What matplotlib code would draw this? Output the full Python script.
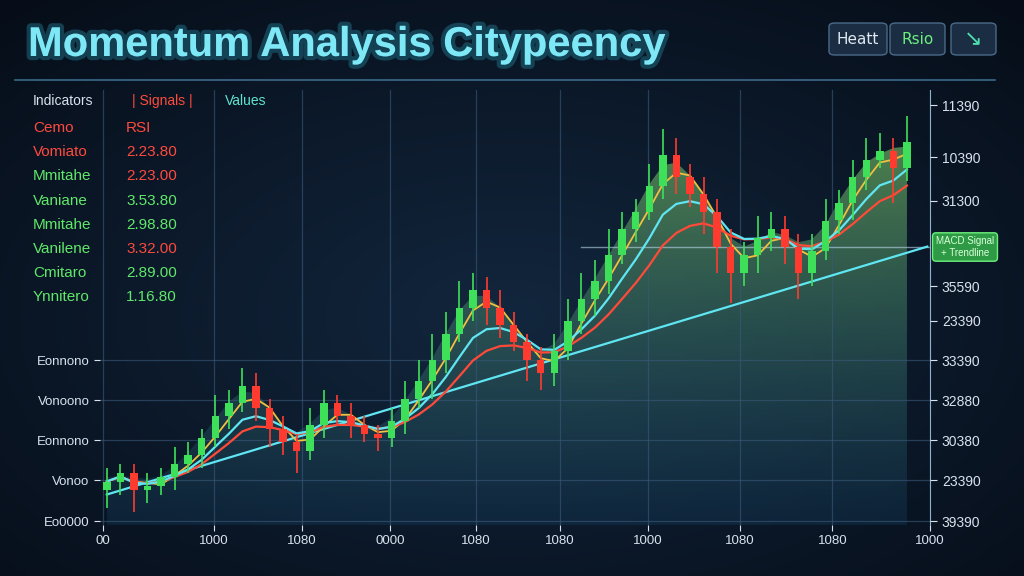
import numpy as np
import pandas as pd
import matplotlib
matplotlib.use("Agg")
import matplotlib.pyplot as plt
from matplotlib.patches import FancyBboxPatch, Polygon
import matplotlib.patheffects as pe

# ---- data ----
closes = [10, 12, 8, 9, 11, 14, 16, 20, 25, 28, 32, 27, 22, 19, 17, 23, 28, 25, 23, 21,
          20, 24, 29, 33, 38, 44, 50, 54, 50, 46, 42, 38, 35, 40, 47, 52, 56, 62, 68, 72,
          78, 85, 80, 76, 72, 64, 58, 62, 66, 68, 64, 58, 63, 70, 74, 80, 84, 86, 82, 88]
upper_wick = [3, 2, 2, 3, 2, 4, 3, 2, 5, 3, 4, 3, 2, 3, 2, 4, 3, 2, 3, 2,
              2, 3, 4, 5, 6, 5, 6, 4, 3, 4, 3, 2, 3, 4, 5, 6, 5, 6, 4, 3,
              5, 6, 4, 3, 4, 3, 4, 3, 5, 4, 3, 3, 4, 5, 3, 4, 5, 4, 3, 6]
lower_wick = [4, 3, 5, 3, 2, 3, 2, 3, 2, 3, 2, 3, 4, 3, 5, 2, 3, 2, 3, 2,
              3, 2, 3, 2, 4, 3, 2, 3, 4, 3, 2, 5, 4, 3, 2, 3, 4, 3, 2, 3,
              2, 3, 4, 3, 5, 6, 7, 3, 4, 3, 4, 6, 3, 2, 3, 4, 3, 2, 8, 3]
trend_start, trend_end = 7.0, 64.0
signal_level = 64.0

right_ticks = [96.5, 84.5, 74.5, 54.9, 46.9, 37.9, 28.7, 19.5, 10.3, 0.9]
right_labels = ["11390", "10390", "31300", "35590", "23390", "33390", "32880", "30380", "23390", "39390"]
x_ticks = [-0.3, 7.9, 14.4, 20.9, 27.2, 33.4, 39.9, 46.7, 53.5, 60.7]
x_labels = ["00", "1000", "1080", "0000", "1080", "1080", "1000", "1080", "1080", "1000"]
left_ticks = [37.9, 28.7, 19.5, 10.3, 0.9]
left_labels = ["Eonnono", "Vonoono", "Eonnono", "Vonoo", "Eo0000"]

table_names = ["Cemo", "Vomiato", "Mmitahe", "Vaniane", "Mmitahe", "Vanilene", "Cmitaro", "Ynnitero"]
table_vals = ["RSI", "2.23.80", "2.23.00", "3.53.80", "2.98.80", "3.32.00", "2.89.00", "1.16.80"]
name_cols = ["#ff4a3d", "#ff4a3d", "#5fe86a", "#5fe86a", "#5fe86a", "#5fe86a", "#5fe86a", "#5fe86a"]
val_cols = ["#ff4a3d", "#ff4a3d", "#ff4a3d", "#5fe86a", "#5fe86a", "#ff4a3d", "#5fe86a", "#5fe86a"]

BG = "#0c1a2d"
GREEN, RED = "#3ee05a", "#ff3b2f"
CYAN = "#5fe6f2"
plt.rcParams["font.family"] = ["Liberation Sans", "DejaVu Sans"]

fig = plt.figure(figsize=(10.24, 5.76), dpi=100, facecolor=BG)

# background vignette
bg = fig.add_axes([0, 0, 1, 1], zorder=-10)
yy, xx = np.mgrid[0:1:200j, 0:1:300j]
r = np.sqrt(((xx - 0.5) / 0.8) ** 2 + ((yy - 0.55) / 0.8) ** 2)
bg.imshow(-r, cmap=matplotlib.colors.LinearSegmentedColormap.from_list("v", ["#060d18", "#12263d"]),
          extent=[0, 1, 0, 1], aspect="auto")
bg.axis("off")

ax = fig.add_axes([100 / 1024, 1 - 525 / 576, 830 / 1024, 435 / 576])
ax.set_facecolor("none")
n = len(closes)
x = np.arange(n)
c = np.array(closes, float)
o = np.r_[c[0] - 2, c[:-1]]
hi = np.maximum(o, c) + np.array(upper_wick)
lo = np.minimum(o, c) - np.array(lower_wick)

s = pd.Series(c)
ma_fast = s.rolling(3, min_periods=1).mean().values
ma_mid = s.ewm(span=6).mean().values
ma_slow = s.ewm(span=10).mean().values
env = pd.Series(np.maximum(c, o)).rolling(3, min_periods=1, center=True).mean().values

# gradient fill under the envelope
verts = [(x[0], 0)] + list(zip(x, env)) + [(x[-1], 0)]
poly = Polygon(verts, closed=True, facecolor="none", edgecolor="none")
ax.add_patch(poly)
grad = np.linspace(0, 1, 256).reshape(-1, 1)
gcmap = matplotlib.colors.LinearSegmentedColormap.from_list(
    "g", [(0.1, 0.3, 0.45, 0.25), (0.4, 0.65, 0.35, 0.8)])
im = ax.imshow(grad, cmap=gcmap, extent=[x[0], x[-1], 0, 92], origin="lower",
               aspect="auto", zorder=1)
im.set_clip_path(poly)

# trend + signal line
ax.plot([x[0], n + 0.5], [trend_start, trend_end], color=CYAN, lw=1.6, zorder=3)
ax.plot([35, n + 0.7], [signal_level, signal_level], color="#b9d8e8", lw=1.0, alpha=0.6, zorder=2)

ax.plot(x, ma_fast, color="#f0c040", lw=1.3, zorder=3)
ax.plot(x, ma_slow, color="#ff4a3a", lw=1.6, zorder=3)
ax.plot(x, ma_mid, color=CYAN, lw=1.6, zorder=3)

for i in range(n):
    col = GREEN if c[i] >= o[i] else RED
    ax.vlines(x[i], lo[i], hi[i], color=col, lw=1.2, zorder=4)
    ax.bar(x[i], abs(c[i] - o[i]) or 0.8, bottom=min(c[i], o[i]), width=0.55, color=col, zorder=5)

ax.set_xlim(-0.5, 60.7)
ax.set_ylim(0, 100)
ax.set_xticks(x_ticks)
ax.set_xticklabels(x_labels)
ax.set_yticks(left_ticks)
ax.set_yticklabels(left_labels)
ax.tick_params(colors="#d8e2ee", labelsize=9.5, length=4)
ax.grid(True, color="#3a5a7a", lw=0.9, alpha=0.6)
for sp in ax.spines.values():
    sp.set_visible(False)
ax.spines["right"].set_visible(True)
ax.spines["right"].set_color("#8fb0cc")

axr = ax.twinx()
axr.set_ylim(0, 100)
axr.set_yticks(right_ticks)
axr.set_yticklabels(right_labels)
axr.tick_params(colors="#d8e2ee", labelsize=10, length=5)
for sp in axr.spines.values():
    sp.set_visible(False)

# label box on signal line
fig.text(965 / 1024, 1 - 247 / 576, "MACD Signal\n+ Trendline", ha="center", va="center",
         fontsize=7, color="#d8ffd8",
         bbox=dict(boxstyle="round,pad=0.35", fc="#2f9a45", ec="#6cf07c", lw=1))

# title
glow = [pe.withStroke(linewidth=6, foreground="#1f6f85", alpha=0.5)]
fig.text(28 / 1024, 1 - 45 / 576, "Momentum Analysis Citypeency", fontsize=30, fontweight="bold",
         color="#7ee8f7", va="center", ha="left", path_effects=glow)
fig.add_artist(plt.Line2D([15 / 1024, 995 / 1024], [1 - 80 / 576] * 2, color="#3a6a8a", lw=1.2))

# buttons
for (bx, bw, label, col) in [(829, 58, "Heatt", "#e0e8f0"), (890, 55, "Rsio", "#6cf07c"), (951, 45, "\u2198", "#4fe0b0")]:
    fig.add_artist(FancyBboxPatch((bx / 1024, 1 - 55 / 576), bw / 1024, 32 / 576,
                                  boxstyle="round,pad=0,rounding_size=0.006",
                                  fc="#1a2d42", ec="#4a6a88", lw=1, transform=fig.transFigure))
    fig.text((bx + bw / 2) / 1024, 1 - 39 / 576, label, ha="center", va="center",
             fontsize=11 if len(label) > 1 else 16, color=col, family=["DejaVu Sans"])

# indicator table
fig.text(33 / 1024, 1 - 101 / 576, "Indicators", fontsize=10, color="#d8e2ee", va="center")
fig.text(132 / 1024, 1 - 101 / 576, "| Signals |", fontsize=10, color="#ff4a3d", va="center")
fig.text(225 / 1024, 1 - 101 / 576, "Values", fontsize=10, color="#5fe6d0", va="center")
for k, (nm, v) in enumerate(zip(table_names, table_vals)):
    yk = 1 - (128 + k * 24.2) / 576
    fig.text(33 / 1024, yk, nm, fontsize=11, color=name_cols[k], va="center")
    fig.text(126 / 1024, yk, v, fontsize=11, color=val_cols[k], va="center")

fig.savefig("out.png", dpi=100, facecolor=BG)
